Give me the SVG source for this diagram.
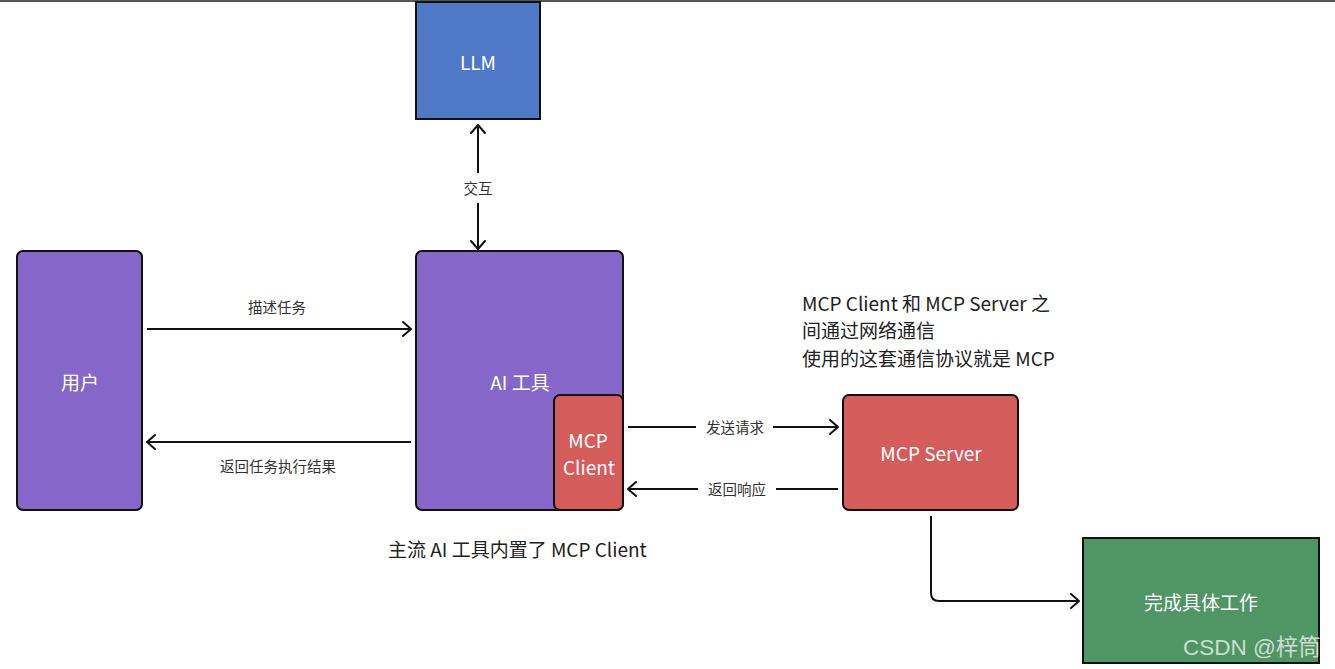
<svg xmlns="http://www.w3.org/2000/svg" width="1335" height="669" viewBox="0 0 1335 669">
<defs>
<marker id="ah" viewBox="0 0 12 16" refX="10" refY="8" markerWidth="12" markerHeight="16" markerUnits="userSpaceOnUse" orient="auto-start-reverse">
<path d="M2,1 L10,8 L2,15" fill="none" stroke="#111" stroke-width="2" stroke-linecap="round" stroke-linejoin="round"/>
</marker>
<style>
text{font-family:"Noto Sans CJK SC","Noto Sans",sans-serif}
.box{stroke:#111;stroke-width:2}
.nl{fill:#fff;font-size:19px;text-anchor:middle;dominant-baseline:central}
.el{fill:#333;font-size:14.5px;text-anchor:middle;dominant-baseline:central}
.ann{fill:#222;font-size:19px}
.conn{fill:none;stroke:#111;stroke-width:2}
</style>
</defs>
<rect x="0" y="0" width="1335" height="669" fill="#fff"/>
<rect x="0" y="0" width="1335" height="2" fill="#555"/>
<g id="llm"><rect class="box" x="416" y="2" width="124" height="117" fill="#4f78c6"/><text class="nl" x="478" y="61">LLM</text></g>
<g id="user"><rect class="box" x="17" y="251" width="125" height="259" rx="6" fill="#8467c8"/><text class="nl" x="80" y="381">用户</text></g>
<g id="aitool"><rect class="box" x="416" y="251" width="207" height="259" rx="6" fill="#8467c8"/><text class="nl" x="520" y="381">AI 工具</text></g>
<g id="mcpclient"><rect class="box" x="554" y="395" width="69" height="115" rx="6" fill="#d45c5a"/><text class="nl" x="588" y="439">MCP</text><text class="nl" x="589" y="466">Client</text></g>
<g id="mcpserver"><rect class="box" x="843" y="395" width="175" height="115" rx="6" fill="#d45c5a"/><text class="nl" x="931" y="452">MCP Server</text></g>
<g id="work"><rect class="box" x="1083" y="538" width="236" height="125" fill="#4f9664"/><text class="nl" x="1201" y="601">完成具体工作</text></g>
<g id="connectors">
<path class="conn" d="M478,173 V125" marker-end="url(#ah)"/>
<path class="conn" d="M478,203 V249" marker-end="url(#ah)"/>
<text class="el" x="478" y="187">交互</text>
<path class="conn" d="M147,329 H411" marker-end="url(#ah)"/>
<text class="el" x="277" y="306">描述任务</text>
<path class="conn" d="M411,442 H147" marker-end="url(#ah)"/>
<text class="el" x="278" y="465">返回任务执行结果</text>
<path class="conn" d="M628,427 H696" />
<path class="conn" d="M773,427 H838" marker-end="url(#ah)"/>
<text class="el" x="735" y="426">发送请求</text>
<path class="conn" d="M838,489 H776"/>
<path class="conn" d="M698,489 H628" marker-end="url(#ah)"/>
<text class="el" x="737" y="488">返回响应</text>
<path class="conn" d="M931,516 V593 Q931,601 939,601 H1079" marker-end="url(#ah)"/>
</g>
<g id="notes">
<text class="ann" x="388" y="557">主流 AI 工具内置了 MCP Client</text>
<text class="ann" x="802" y="311">MCP Client 和 MCP Server 之</text>
<text class="ann" x="802" y="338">间通过网络通信</text>
<text class="ann" x="802" y="366">使用的这套通信协议就是 MCP</text>
</g>
<text x="1183" y="655" fill="#e8e8e8" fill-opacity="0.85" font-size="22.5" style="font-family:'Liberation Sans','Noto Sans CJK SC',sans-serif">CSDN @梓筒</text>
</svg>
